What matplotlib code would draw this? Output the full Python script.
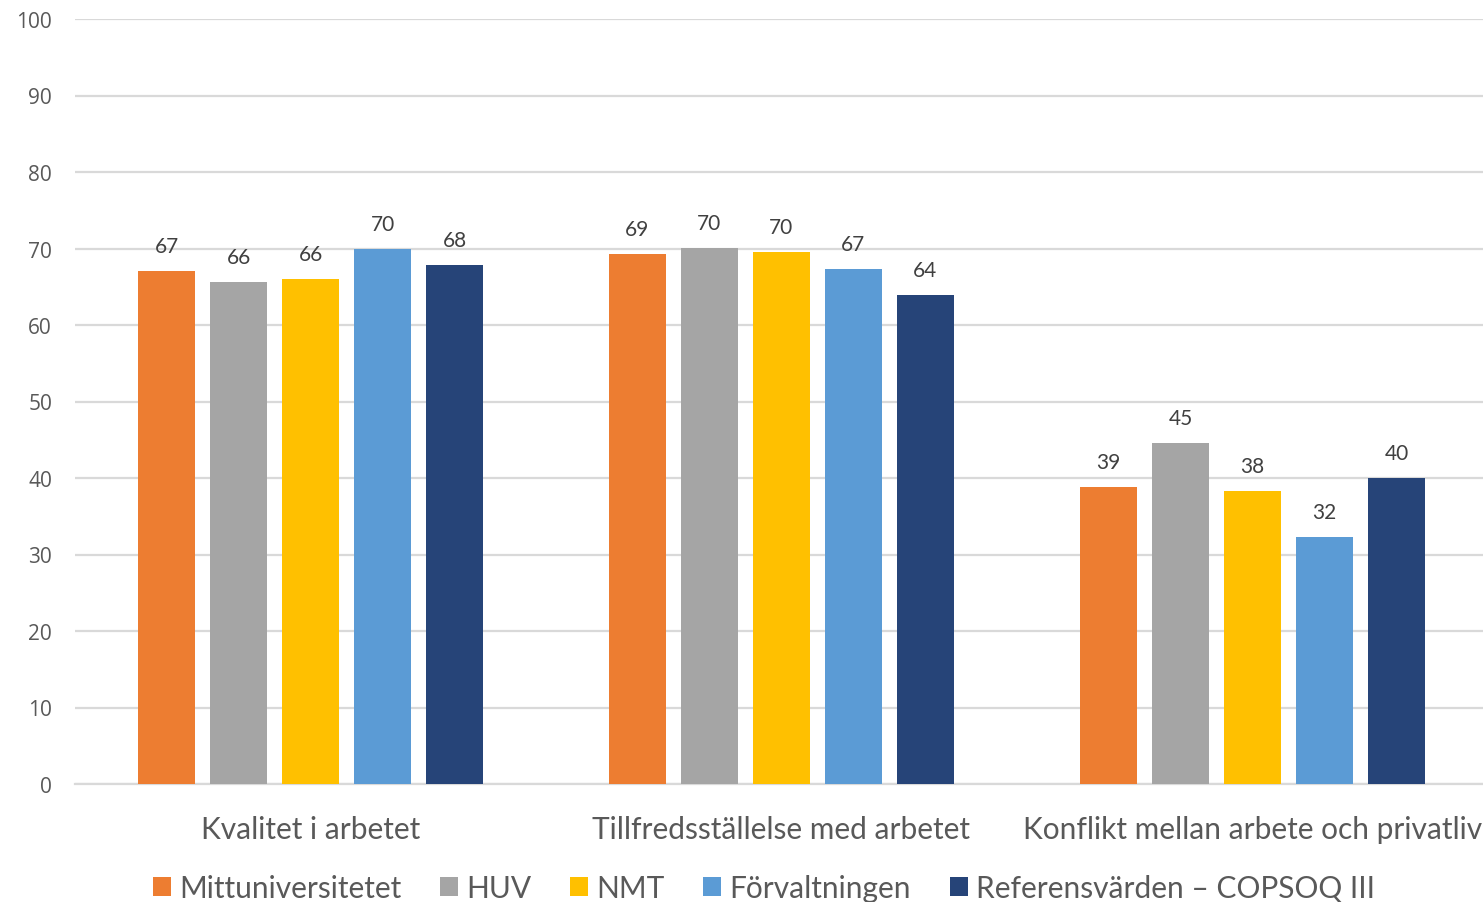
import numpy as np
import matplotlib.pyplot as plt

categories = ["Kvalitet i arbetet", "Tillfredsställelse med arbetet",
              "Konflikt mellan arbete och privatliv"]
series = ["Mittuniversitetet", "HUV", "NMT", "Förvaltningen",
          "Referensvärden – COPSOQ III"]
mittuniversitetet = [67.1, 69.3, 38.8]
huv = [65.6, 70.1, 44.6]
nmt = [66.0, 69.6, 38.3]
forvaltningen = [69.9, 67.3, 32.3]
referens = [67.9, 63.9, 40.0]
colors = ["#ED7D31", "#A5A5A5", "#FFC000", "#5B9BD5", "#264478"]

values = [mittuniversitetet, huv, nmt, forvaltningen, referens]

fig = plt.figure(figsize=(14.83, 9.03), dpi=100)
ax = fig.add_axes([75 / 1483, 1 - 785 / 903, 1413 / 1483, 765 / 903])

x = np.arange(len(categories))
step = 72 / 471
width = 57 / 471
for j, (name, vals, c) in enumerate(zip(series, values, colors)):
    pos = x + (j - 2) * step
    bars = ax.bar(pos, vals, width, color=c, label=name, zorder=3)
    for b, v in zip(bars, vals):
        ax.annotate(f"{v:.0f}", (b.get_x() + b.get_width() / 2, v),
                    xytext=(0, 15), textcoords="offset pixels",
                    ha="center", va="bottom", fontsize=15,
                    family="Lato", color="#404040")

ax.set_xlim(-0.5, 2.5)
ax.set_ylim(0, 100)
ax.set_yticks(np.arange(0, 101, 10))
ax.yaxis.grid(True, color="#d9d9d9", linewidth=1.6, zorder=0)
ax.tick_params(axis="y", length=0, pad=16.5, labelsize=15, labelcolor="#595959")
for lab in ax.get_yticklabels():
    lab.set_family("Open Sans")
ax.set_xticks(x)
ax.set_xticklabels(categories, fontsize=21.5, family="Lato", color="#595959")
ax.tick_params(axis="x", length=0, pad=22)
for s in ["top", "right", "left"]:
    ax.spines[s].set_visible(False)
ax.spines["bottom"].set_color("#d9d9d9")
ax.spines["bottom"].set_linewidth(1.6)

leg = fig.legend(loc="center", bbox_to_anchor=(764 / 1483, 1 - 889 / 903),
                 ncol=5, frameon=False, handlelength=0.6, handleheight=0.6,
                 handletextpad=0.27, columnspacing=1.3,
                 prop={"family": "Lato", "size": 21.5})
for t in leg.get_texts():
    t.set_color("#595959")

fig.savefig("out.png", dpi=100)
